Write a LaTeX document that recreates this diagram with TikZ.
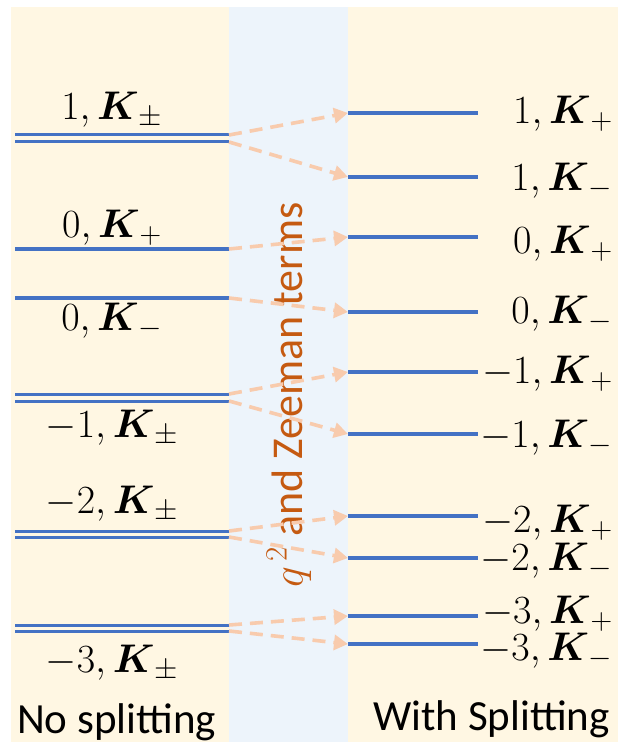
\documentclass[tikz,border=0pt]{standalone}
\usepackage{fix-cm}
\usepackage{amsmath}
\usepackage{fontspec}
\setmainfont{Carlito}
\usetikzlibrary{arrows.meta}
\DeclareMathSizes{40}{40}{30}{24}
\DeclareMathSizes{44}{44}{31}{25}
\definecolor{beige}{HTML}{FFF7E3}
\definecolor{paleblue}{HTML}{EDF4FB}
\definecolor{lvl}{HTML}{4472C4}
\definecolor{peach}{HTML}{F8CBAD}
\definecolor{orng}{HTML}{C55A11}
\newcommand{\Kb}{\boldsymbol{K}}
\begin{document}
\begin{tikzpicture}[x=1pt,y=-1pt,
  level/.style={draw=lvl,line width=3.4pt},
  dlevel/.style={draw=lvl,line width=3pt},
  trans/.style={draw=peach,line width=3.6pt,dash pattern=on 13pt off 8pt,-{Triangle[length=14pt,width=15pt]}},
  lbl/.style={inner sep=0pt,font=\fontsize{40}{48}\selectfont},
  txt/.style={inner sep=0pt,font=\fontsize{43}{50}\selectfont},
  mtxt/.style={inner sep=0pt,font=\fontsize{44}{50}\selectfont}]
\useasboundingbox (0,0) rectangle (618,746);
\fill[beige] (11,7) rectangle (229,742);
\fill[paleblue] (229,7) rectangle (348,742);
\fill[beige] (348,7) rectangle (618,742);
% middle label
\node[mtxt,text=orng,rotate=90] (mid) at (289,395) {$q^{\,2}$ and Zeeman terms};
% left levels
\coordinate (L1a) at (229,135); \coordinate (L1b) at (229,142);
\coordinate (L0p) at (229,249); \coordinate (L0m) at (229,298);
\coordinate (Lm1a) at (229,394); \coordinate (Lm1b) at (229,401);
\coordinate (Lm2a) at (229,531); \coordinate (Lm2b) at (229,537);
\coordinate (Lm3a) at (229,625); \coordinate (Lm3b) at (229,631);
\draw[dlevel] (15,135) -- (L1a); \draw[dlevel] (15,142) -- (L1b);
\draw[level] (15,249) -- (L0p);
\draw[level] (15,298) -- (L0m);
\draw[dlevel] (15,394) -- (Lm1a); \draw[dlevel] (15,401) -- (Lm1b);
\draw[dlevel] (15,531) -- (Lm2a); \draw[dlevel] (15,537) -- (Lm2b);
\draw[dlevel] (15,625) -- (Lm3a); \draw[dlevel] (15,631) -- (Lm3b);
% right levels
\coordinate (R1p) at (348,113); \coordinate (R1m) at (348,177);
\coordinate (R0p) at (348,237); \coordinate (R0m) at (348,312);
\coordinate (Rm1p) at (348,372); \coordinate (Rm1m) at (348,434);
\coordinate (Rm2p) at (348,516); \coordinate (Rm2m) at (348,558);
\coordinate (Rm3p) at (348,616); \coordinate (Rm3m) at (348,644);
\foreach \c/\y in {R1p/113,R1m/177,R0p/237,R0m/312,Rm1p/372,Rm1m/434,Rm2p/516,Rm2m/558,Rm3p/616,Rm3m/644}
  \draw[level] (\c) -- (478,\y);
% transitions
\draw[trans] (L1a) -- (R1p);
\draw[trans] (L1b) -- (R1m);
\draw[trans] (L0p) -- (R0p);
\draw[trans] (L0m) -- (R0m);
\draw[trans] (Lm1a) -- (Rm1p);
\draw[trans] (Lm1b) -- (Rm1m);
\draw[trans] (Lm2a) -- (Rm2p);
\draw[trans] (Lm2b) -- (Rm2m);
\draw[trans] (Lm3a) -- (Rm3p);
\draw[trans] (Lm3b) -- (Rm3m);
% left labels
\node[lbl,anchor=base] (l1) at (112,120) {$1,\Kb_{\pm}$};
\node[lbl,anchor=base] (l0p) at (112,237) {$0,\Kb_{+}$};
\node[lbl,anchor=base] (l0m) at (112,330) {$0,\Kb_{-}$};
\node[lbl,anchor=base] (lm1) at (112,437) {$-1,\Kb_{\pm}$};
\node[lbl,anchor=base] (lm2) at (112,513) {$-2,\Kb_{\pm}$};
\node[lbl,anchor=base] (lm3) at (112,672) {$-3,\Kb_{\pm}$};
\node[txt,anchor=base west] (nos) at (17,733) {No splitting};
% right labels
\node[lbl,anchor=base east] (r1p) at (613,124) {$1,\Kb_{+}$};
\node[lbl,anchor=base east] (r1m) at (613,190) {$1,\Kb_{-}$};
\node[lbl,anchor=base east] (r0p) at (613,253) {$0,\Kb_{+}$};
\node[lbl,anchor=base east] (r0m) at (613,323) {$0,\Kb_{-}$};
\node[lbl,anchor=base east] (rm1p) at (613,383) {$-1,\Kb_{+}$};
\node[lbl,anchor=base east] (rm1m) at (613,447) {$-1,\Kb_{-}$};
\node[lbl,anchor=base east] (rm2p) at (613,532) {$-2,\Kb_{+}$};
\node[lbl,anchor=base east] (rm2m) at (613,570) {$-2,\Kb_{-}$};
\node[lbl,anchor=base east] (rm3p) at (613,623) {$-3,\Kb_{+}$};
\node[lbl,anchor=base east] (rm3m) at (613,660) {$-3,\Kb_{-}$};
\node[txt,anchor=base east] (ws) at (610,730) {With Splitting};
\end{tikzpicture}
\end{document}
